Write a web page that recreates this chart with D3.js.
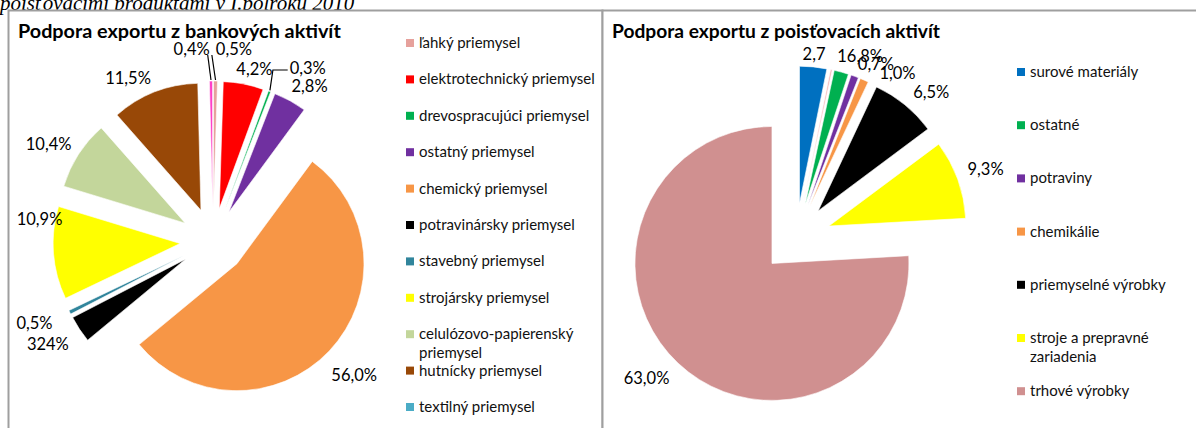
<!DOCTYPE html>
<html>
<head>
<meta charset="utf-8">
<script src="https://cdn.jsdelivr.net/npm/d3@7"></script>
<style>
  body { margin: 0; background: #fff; }
  svg { display: block; font-family: Lato, "Open Sans", sans-serif; }
</style>
</head>
<body>
<svg id="chart" width="1196" height="428"></svg>
<script>
// bank pie (share = slice size as drawn, label = text printed on the chart)
var bankSectors = ["ľahký priemysel", "elektrotechnický priemysel", "drevospracujúci priemysel",
  "ostatný priemysel", "chemický priemysel", "potravinársky priemysel", "stavebný priemysel",
  "strojársky priemysel", "celulózovo-papierenský priemysel", "hutnícky priemysel", "textilný priemysel"];
var bankShare = [0.5, 5.1, 0.3, 4.2, 53.9, 3.4, 0.5, 11.8, 8.8, 11.1, 0.4];
var bankLabels = ["0,5%", "4,2%", "0,3%", "2,8%", "56,0%", "324%", "0,5%", "10,9%", "10,4%", "11,5%", "0,4%"];
var bankColors = ["#E6A19C", "#FF0000", "#00B050", "#7030A0", "#F79646", "#000000", "#31859C",
  "#FFFF00", "#C3D69B", "#984807", "#FF3FC8"];
var bankLegendColors = ["#E6A19C", "#FF0000", "#00B050", "#7030A0", "#F79646", "#000000", "#31859C",
  "#FFFF00", "#C3D69B", "#984807", "#4BACC6"];

// insurance pie (the second slice has no legend entry)
var insuranceGroups = ["surové materiály", "", "ostatné", "potraviny", "chemikálie",
  "priemyselné výrobky", "stroje a prepravné zariadenia", "trhové výrobky"];
var insuranceShare = [3.2, 0.2, 1.7, 0.9, 1.0, 7.8, 9.3, 75.9];
var insuranceLabels = ["2,7", "", "16,8%", "0,7%", "1,0%", "6,5%", "9,3%", "63,0%"];
var insuranceColors = ["#0070C0", "#F4B6B6", "#00B050", "#7030A0", "#F79646", "#000000", "#FFFF00", "#D09090"];

// label nudges off the slice bisector, in px
var bankNudge = [[18, -6], [6, 11], [29, 1], [7, 8], [6, 6], [-10, 0], [-12, -1], [12, -36], [-8, 4], [-17, 10], [-19, -6]];
var insuranceNudge = [[-1, 5], [0, 0], [14, 1], [15, 5], [26, 9], [15, 1], [11, -4], [-19, 2]];

var svg = d3.select("#chart");

// caption of the page, cut by the top edge
svg.append("text")
  .attr("x", 0).attr("y", 10)
  .style("font-family", "'Liberation Serif', serif")
  .style("font-style", "italic")
  .style("font-size", "21px")
  .text("poisťovacími produktami v I.polroku 2010");

// chart frames
svg.append("rect").attr("x", 8.5).attr("y", 10.5).attr("width", 594).attr("height", 440)
  .attr("fill", "#fff").attr("stroke", "#9f9f9f").attr("stroke-width", 2);
svg.append("rect").attr("x", 602.5).attr("y", 10.5).attr("width", 640).attr("height", 440)
  .attr("fill", "#fff").attr("stroke", "#9f9f9f").attr("stroke-width", 2);

svg.append("text").attr("x", 18).attr("y", 38)
  .style("font-weight", "bold").style("font-size", "19.8px")
  .text("Podpora exportu z bankových aktivít");
svg.append("text").attr("x", 612).attr("y", 38)
  .style("font-weight", "bold").style("font-size", "19.2px")
  .text("Podpora exportu z poisťovacích aktivít");

var drawPie = function(opts) {
  var pie = d3.pie().sort(null).value(function(d) { return d; });
  var arcs = pie(opts.values);
  var arc = d3.arc().innerRadius(0).outerRadius(opts.radius);
  var g = svg.append("g").attr("transform", "translate(" + opts.cx + "," + opts.cy + ")");

  var mid = function(a) { return (a.startAngle + a.endAngle) / 2; };

  g.selectAll("path.slice").data(arcs).enter().append("path")
    .attr("class", "slice")
    .attr("d", arc)
    .attr("fill", function(d, i) { return opts.colors[i]; })
    .attr("stroke", "#fff").attr("stroke-width", 0.6)
    .attr("transform", function(d) {
      var a = mid(d);
      return "translate(" + (opts.explode * Math.sin(a)) + "," + (-opts.explode * Math.cos(a)) + ")";
    });

  var labels = [];
  arcs.forEach(function(d, i) {
    if (!opts.labels[i]) return;
    var a = mid(d);
    var x = opts.labelRadius * Math.sin(a) + opts.nudge[i][0];
    var y = -opts.labelRadius * Math.cos(a) + opts.nudge[i][1];
    var t = g.append("text")
      .attr("x", x).attr("y", y + 6)
      .attr("text-anchor", "middle")
      .style("font-size", "16.5px")
      .text(opts.labels[i]);
    labels[i] = t;
  });

  // leader lines for the tiny slices
  (opts.leaders || []).forEach(function(ld) {
    var d = arcs[ld.index];
    var a = mid(d);
    var r = opts.radius + opts.explode + 1;
    var p0 = [r * Math.sin(a), -r * Math.cos(a)];
    var box = labels[ld.index].node().getBBox();
    var pts;
    if (ld.side === "left") {
      pts = [p0, [box.x - 4, box.y + box.height - 4]];
    } else if (ld.side === "right") {
      pts = [p0, [box.x + box.width - 2, box.y + box.height - 4]];
    } else {
      var yy = box.y + box.height / 2 + 2;
      pts = [p0, [p0[0] + 3, yy], [box.x - 2, yy]];
    }
    g.append("path")
      .attr("d", d3.line()(pts))
      .attr("fill", "none").attr("stroke", "#000").attr("stroke-width", 1.2);
  });
};

var drawLegend = function(opts) {
  var g = svg.append("g");
  opts.names.forEach(function(name, i) {
    if (!name) return;
    var cy = opts.y0 + opts.rows[i] * opts.step;
    g.append("rect")
      .attr("x", opts.x).attr("y", cy - 4)
      .attr("width", 8).attr("height", 8)
      .attr("fill", opts.colors[i]);
    var text = g.append("text")
      .attr("x", opts.x + 13).attr("y", cy + 5)
      .style("font-size", "15px").style("fill", "#111");
    // simple word wrap
    var words = name.split(" ");
    var line = [];
    var tspan = text.append("tspan").attr("x", opts.x + 13);
    words.forEach(function(w) {
      line.push(w);
      tspan.text(line.join(" "));
      if (tspan.node().getComputedTextLength() > opts.wrap && line.length > 1) {
        line.pop();
        tspan.text(line.join(" "));
        line = [w];
        tspan = text.append("tspan").attr("x", opts.x + 13).attr("dy", 19).text(w);
      }
    });
  });
};

drawPie({
  values: bankShare, colors: bankColors, labels: bankLabels, nudge: bankNudge,
  cx: 213, cy: 241, radius: 127, explode: 33, labelRadius: 186,
  leaders: [{index: 0, side: "left"}, {index: 10, side: "right"}, {index: 2, side: "elbow"}]
});

drawPie({
  values: insuranceShare, colors: insuranceColors, labels: insuranceLabels, nudge: insuranceNudge,
  cx: 796, cy: 238, radius: 137, explode: 35, labelRadius: 190
});

drawLegend({
  names: bankSectors, colors: bankLegendColors, rows: d3.range(bankSectors.length),
  x: 406, y0: 43, step: 36.4, wrap: 184
});

drawLegend({
  names: insuranceGroups, colors: insuranceColors, rows: [0, null, 1, 2, 3, 4, 5, 6],
  x: 1017, y0: 72, step: 53.2, wrap: 165
});
</script>
</body>
</html>
